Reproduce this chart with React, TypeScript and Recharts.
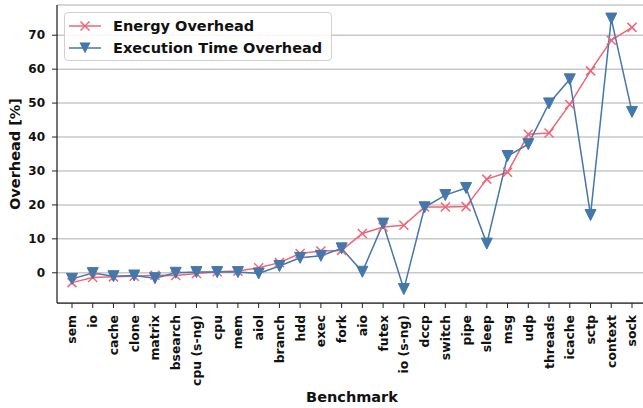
import { LineChart, Line, XAxis, YAxis, CartesianGrid } from "recharts";

const categories = [
  "sem", "io", "cache", "clone", "matrix", "bsearch", "cpu (s-ng)", "cpu", "mem", "aiol",
  "branch", "hdd", "exec", "fork", "aio", "futex", "io (s-ng)", "dccp", "switch", "pipe",
  "sleep", "msg", "udp", "threads", "icache", "sctp", "context", "sock",
];
const energyOverhead = [
  -2.9, -1.4, -1.2, -1.0, -0.7, -0.8, -0.2, 0.3, 0.5, 1.5,
  3.0, 5.7, 6.4, 6.6, 11.6, 13.5, 14.0, 19.4, 19.4, 19.5,
  27.6, 29.6, 40.8, 41.2, 49.6, 59.5, 68.5, 72.3,
];
const execOverhead = [
  -1.8, -0.1, -1.0, -0.8, -1.6, 0, 0.2, 0.2, 0.2, -0.2,
  2.0, 4.4, 5.0, 7.2, 0.3, 14.5, -4.8, 19.3, 22.9, 25.0,
  8.6, 34.4, 37.9, 49.9, 57.0, 17.0, 74.9, 47.4,
];
const yTicks = [0, 10, 20, 30, 40, 50, 60, 70];
const seriesNames = ["Energy Overhead", "Execution Time Overhead"];

const RED = "#EE6677";
const BLUE = "#4477AA";
const FONT = "DejaVu Sans, sans-serif";

const data = categories.map((name, i) => ({
  name,
  energy: energyOverhead[i],
  exec: execOverhead[i],
}));

const CrossDot = (props: any) => {
  const { cx, cy } = props;
  if (cx == null || cy == null) return null;
  const r = 4.5;
  return (
    <g stroke={RED} strokeWidth={1.5}>
      <line x1={cx - r} y1={cy - r} x2={cx + r} y2={cy + r} />
      <line x1={cx - r} y1={cy + r} x2={cx + r} y2={cy - r} />
    </g>
  );
};

const TriDot = (props: any) => {
  const { cx, cy } = props;
  if (cx == null || cy == null) return null;
  const s = 5.5;
  return <polygon points={`${cx - s},${cy - s} ${cx + s},${cy - s} ${cx},${cy + s}`} fill={BLUE} stroke={BLUE} strokeWidth={1} />;
};

const XTick = (props: any) => {
  const { x, y, payload } = props;
  return (
    <g transform={`translate(${x},${y})`}>
      <text transform="rotate(-90)" x={0} y={0} dy="0.36em" textAnchor="end" fontSize={12.4} fontWeight="bold" fontFamily={FONT} fill="#111">
        {payload.value}
      </text>
    </g>
  );
};

function LegendBox() {
  return (
    <div
      style={{
        position: "absolute", left: 64, top: 12, width: 266, height: 47,
        border: "1px solid #d0d0d0", borderRadius: 4, background: "rgba(255,255,255,0.85)",
        fontFamily: FONT, fontWeight: "bold", fontSize: 14.5, color: "#111",
      }}
    >
      {seriesNames.map((n, i) => (
        <div key={n} style={{ position: "absolute", left: 3, top: 3 + i * 22, height: 20, display: "flex", alignItems: "center" }}>
          <svg width={34} height={20} style={{ marginRight: 11 }}>
            <line x1={1} y1={10} x2={33} y2={10} stroke={i === 0 ? RED : BLUE} strokeWidth={1.5} />
            {i === 0 ? (
              <g stroke={RED} strokeWidth={1.5}>
                <line x1={12.5} y1={5.5} x2={21.5} y2={14.5} />
                <line x1={12.5} y1={14.5} x2={21.5} y2={5.5} />
              </g>
            ) : (
              <polygon points="11.5,4.5 22.5,4.5 17,15.5" fill={BLUE} />
            )}
          </svg>
          <span>{n}</span>
        </div>
      ))}
    </div>
  );
}

export default function App() {
  return (
    <div style={{ position: "absolute", left: 0, top: 0, width: 643, height: 408, overflow: "hidden", background: "#fff" }}>
      <LineChart width={650} height={408} data={data} margin={{ top: 5, right: 3, bottom: 0, left: 0 }}>
        <CartesianGrid vertical={false} stroke="#c8c8c8" strokeWidth={1.5} />
        <XAxis
          dataKey="name"
          interval={0}
          padding={{ left: 15, right: 15 }}
          height={105}
          tick={<XTick />}
          tickSize={5}
          tickMargin={7}
          stroke="#222"
          tickLine={{ stroke: "#222" }}
          axisLine={{ stroke: "#222", strokeWidth: 1.25 }}
          label={({ viewBox }: any) => (
            <text x={viewBox.x + viewBox.width / 2} y={viewBox.y + 99} textAnchor="middle" fontSize={14.5} fontWeight="bold" fontFamily={FONT} fill="#111">
              Benchmark
            </text>
          )}
        />
        <XAxis xAxisId="top" orientation="top" dataKey="name" height={0} tick={false} tickLine={false} axisLine={{ stroke: "#222", strokeWidth: 1.25 }} />
        <YAxis
          domain={[-8.9, 78.9]}
          ticks={yTicks}
          allowDataOverflow
          width={57}
          tickSize={5}
          tickMargin={7}
          stroke="#222"
          axisLine={{ stroke: "#222", strokeWidth: 1.25 }}
          tick={{ fontSize: 12, fontWeight: "bold", fontFamily: FONT, fill: "#111" }}
          label={({ viewBox }: any) => (
            <text
              transform={`translate(${viewBox.x + 15},${viewBox.y + viewBox.height / 2}) rotate(-90)`}
              textAnchor="middle"
              dy="0.36em"
              fontSize={14.5}
              fontWeight="bold"
              fontFamily={FONT}
              fill="#111"
            >
              Overhead [%]
            </text>
          )}
        />
        <Line dataKey="energy" name={seriesNames[0]} stroke={RED} strokeWidth={1.5} dot={<CrossDot />} activeDot={false} isAnimationActive={false} />
        <Line dataKey="exec" name={seriesNames[1]} stroke={BLUE} strokeWidth={1.5} dot={<TriDot />} activeDot={false} isAnimationActive={false} />
      </LineChart>
      <LegendBox />
    </div>
  );
}
